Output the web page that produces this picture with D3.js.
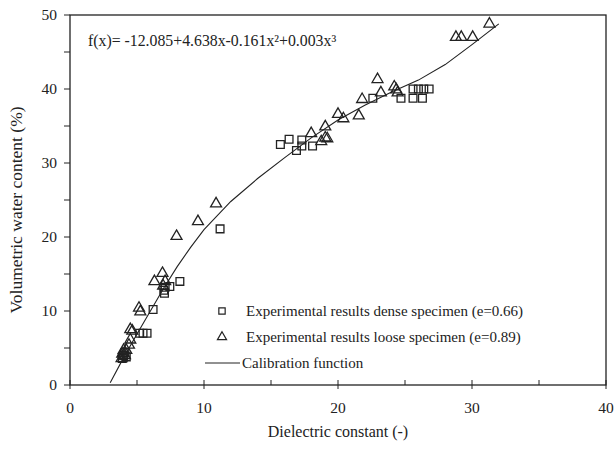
<!DOCTYPE html>
<html>
<head>
<meta charset="utf-8">
<script src="https://cdn.jsdelivr.net/npm/d3@7"></script>
<style>
	body { margin: 0; background: #fff; }
	svg text { font-family: "Liberation Serif", "DejaVu Serif", serif; fill: #222; }
</style>
</head>
<body>
<svg id="chart" width="614" height="460"></svg>
<script>
// dense specimen (squares)
var denseX = [3.9, 4.0, 4.1, 4.2, 5.2, 5.45, 5.75, 6.2, 7.05, 7.1, 7.45, 7.0, 8.2, 11.2, 15.7, 16.35, 16.9, 17.3, 17.3, 18.1, 22.6, 24.7, 25.6, 26.3, 25.6, 26.0, 26.4, 26.8]
var denseY = [3.6, 4.0, 4.4, 3.8, 7.0, 7.0, 7.0, 10.2, 12.4, 13.2, 13.3, 12.8, 14.0, 21.1, 32.5, 33.2, 31.7, 33.1, 32.3, 32.3, 38.75, 38.75, 38.75, 38.75, 40.0, 40.0, 40.0, 40.0]

// loose specimen (triangles)
var looseX = [3.85, 3.9, 4.0, 4.1, 4.2, 4.4, 4.5, 4.5, 4.65, 5.15, 5.25, 6.3, 6.9, 7.1, 6.95, 7.95, 9.55, 10.9, 18.0, 18.75, 19.05, 19.2, 19.05, 20.0, 20.4, 21.55, 21.8, 22.95, 23.2, 24.2, 24.35, 24.45, 28.8, 29.2, 30.05, 31.3]
var looseY = [3.6, 4.2, 4.7, 4.0, 4.7, 5.4, 6.1, 7.5, 7.3, 10.4, 9.9, 14.0, 15.1, 14.0, 13.4, 20.1, 22.1, 24.5, 34.0, 32.9, 33.4, 33.3, 34.9, 36.6, 36.0, 36.4, 38.6, 41.3, 39.5, 40.3, 39.9, 39.5, 47.0, 47.0, 47.0, 48.8]

// calibration curve as drawn
var curveX = [3.0, 4, 5, 6, 7, 8, 9, 10, 12, 14, 16, 18, 20, 22, 24, 26, 28, 30, 32]
var curveY = [0.3, 3.7, 6.9, 10.0, 13.1, 16.0, 18.6, 21.0, 24.8, 27.9, 30.7, 33.4, 35.8, 37.8, 39.6, 41.2, 43.3, 46.0, 48.8]

var xTicks = [0, 10, 20, 30, 40]
var yTicks = [0, 10, 20, 30, 40, 50]

var svg = d3.select("#chart"),
	margin = { top: 15, right: 8, bottom: 75, left: 70 },
	width = 614 - margin.left - margin.right,
	height = 460 - margin.top - margin.bottom;

var x = d3.scaleLinear().domain([0, 40]).range([0, width]);
var y = d3.scaleLinear().domain([0, 50]).range([height, 0]);

var g = svg.append("g")
	.attr("transform", "translate(" + margin.left + "," + margin.top + ")");

// frame
g.append("rect")
	.attr("width", width).attr("height", height)
	.style("fill", "none").style("stroke", "#222").style("stroke-width", 1.3);

// x ticks every 5: majors cross the axis, minors point in
g.selectAll(".xtick")
	.data(d3.range(0, 41, 5))
	.enter().append("line")
	.attr("x1", function (d) { return x(d) })
	.attr("x2", function (d) { return x(d) })
	.attr("y1", function (d) { return d % 10 == 0 ? height + 4 : height })
	.attr("y2", height - 5)
	.style("stroke", "#222");

g.selectAll(".ytick")
	.data(d3.range(0, 51, 5))
	.enter().append("line")
	.attr("x1", -6).attr("x2", 0)
	.attr("y1", function (d) { return y(d) })
	.attr("y2", function (d) { return y(d) })
	.style("stroke", "#222");

g.selectAll(".xlabel")
	.data(xTicks)
	.enter().append("text")
	.attr("x", function (d) { return x(d) })
	.attr("y", height + 28)
	.attr("text-anchor", "middle")
	.style("font-size", "15.5px")
	.text(function (d) { return d });

g.selectAll(".ylabel")
	.data(yTicks)
	.enter().append("text")
	.attr("x", -13)
	.attr("y", function (d) { return y(d) + 5 })
	.attr("text-anchor", "end")
	.style("font-size", "15.5px")
	.text(function (d) { return d });

svg.append("text")
	.attr("x", margin.left + width / 2)
	.attr("y", 437)
	.attr("text-anchor", "middle")
	.style("font-size", "16px")
	.text("Dielectric constant (-)");

svg.append("text")
	.attr("transform", "translate(22,210) rotate(-90)")
	.attr("text-anchor", "middle")
	.style("font-size", "17.5px")
	.text("Volumetric water content (%)");

g.append("text")
	.attr("x", 18).attr("y", 31)
	.style("font-size", "15.8px")
	.text("f(x)= -12.085+4.638x-0.161x\u00b2+0.003x\u00b3");

// curve
var line = d3.line()
	.x(function (d, i) { return x(curveX[i]) })
	.y(function (d, i) { return y(curveY[i]) });

g.append("path")
	.datum(curveX)
	.attr("d", line)
	.style("fill", "none").style("stroke", "#222").style("stroke-width", 1.1);

var sq = d3.symbol().type(d3.symbolSquare).size(60);
var tri = d3.symbol().type(d3.symbolTriangle).size(52);

g.selectAll(".dense")
	.data(denseX)
	.enter().append("path")
	.attr("d", sq)
	.attr("transform", function (d, i) { return "translate(" + x(d) + "," + y(denseY[i]) + ")" })
	.style("fill", "none").style("stroke", "#222").style("stroke-width", 1.3);

g.selectAll(".loose")
	.data(looseX)
	.enter().append("path")
	.attr("d", tri)
	.attr("transform", function (d, i) { return "translate(" + x(d) + "," + y(looseY[i]) + ")" })
	.style("fill", "none").style("stroke", "#222").style("stroke-width", 1.3);

// legend
var legend = svg.append("g").attr("transform", "translate(222,311)");
legend.append("path").attr("d", d3.symbol().type(d3.symbolSquare).size(40))
	.style("fill", "none").style("stroke", "#222").style("stroke-width", 1.2);
legend.append("path").attr("d", d3.symbol().type(d3.symbolTriangle).size(36))
	.attr("transform", "translate(0,26)")
	.style("fill", "none").style("stroke", "#222").style("stroke-width", 1.2);
legend.append("line")
	.attr("x1", -17).attr("x2", 18).attr("y1", 52).attr("y2", 52)
	.style("stroke", "#222");
var labels = ["Experimental results dense specimen (e=0.66)",
	"Experimental results loose specimen (e=0.89)",
	"Calibration function"];
legend.selectAll("text")
	.data(labels)
	.enter().append("text")
	.attr("x", function (d, i) { return i == 2 ? 20 : 24 })
	.attr("y", function (d, i) { return i * 26 + 5 })
	.style("font-size", "15px")
	.text(function (d) { return d });
</script>
</body>
</html>
